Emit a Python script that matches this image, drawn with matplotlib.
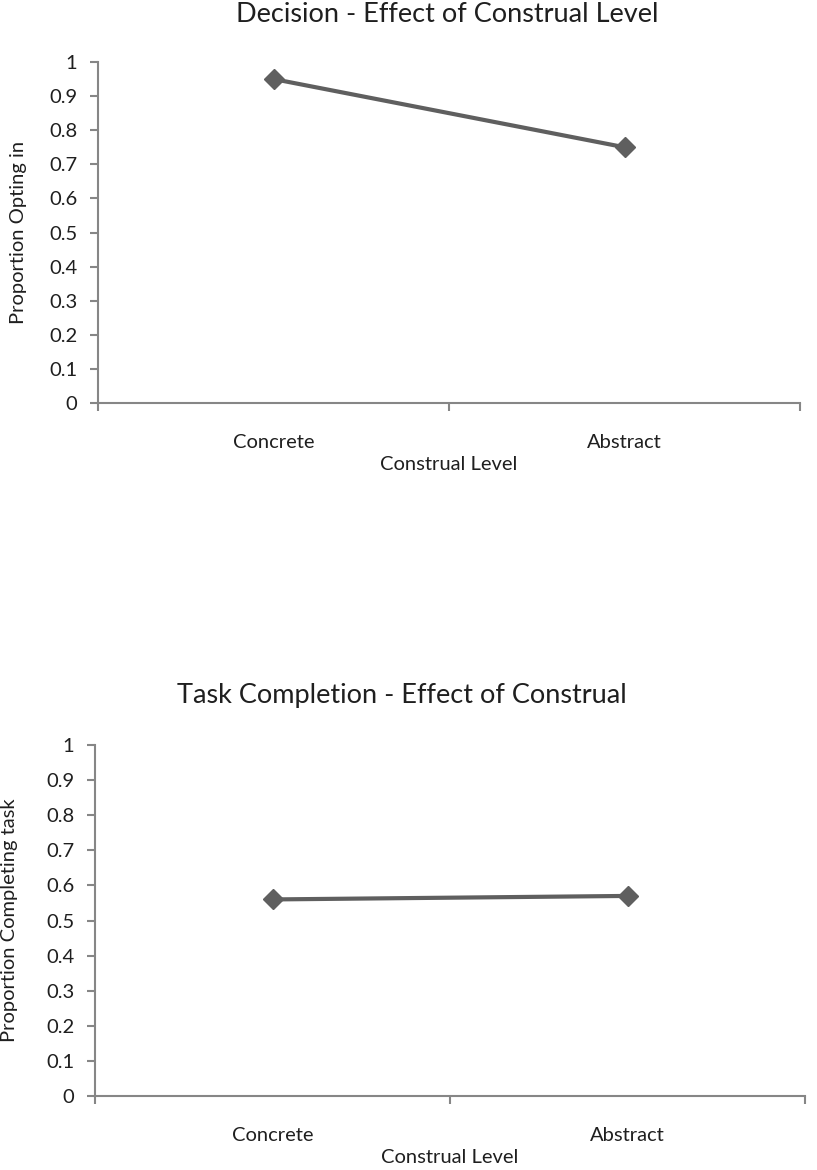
import matplotlib
matplotlib.use("Agg")
import matplotlib.pyplot as plt
import numpy as np

# Data
categories = ["Concrete", "Abstract"]
decision_values = [0.95, 0.75]
completion_values = [0.56, 0.57]
y_ticks = [0, 0.1, 0.2, 0.3, 0.4, 0.5, 0.6, 0.7, 0.8, 0.9, 1]
y_tick_labels = ["0", "0.1", "0.2", "0.3", "0.4", "0.5", "0.6", "0.7", "0.8", "0.9", "1"]

plt.rcParams["font.family"] = ["Lato", "DejaVu Sans"]

LINE_COLOR = "#5f5f5f"
AXIS_COLOR = "#868686"
TEXT_COLOR = "#1f1f1f"
TICK_FS = 14.5
LABEL_FS = 14.5
TITLE_FS = 19.5

fig = plt.figure(figsize=(8.17, 11.7), dpi=100)
W, H = 817, 1170


def make_axes(px_left, px_right, px_top, px_bottom):
    return fig.add_axes([px_left / W, 1 - px_bottom / H,
                         (px_right - px_left) / W, (px_bottom - px_top) / H])


def style(ax, values, ylabel, ylabel_px_x, px_left, px_right):
    x = np.arange(len(categories)) + 0.5
    ax.plot(x, values, color=LINE_COLOR, lw=3.0, marker="D", ms=10,
            markerfacecolor=LINE_COLOR, markeredgecolor=LINE_COLOR,
            solid_capstyle="butt", zorder=3)
    ax.set_xlim(0, len(categories))
    ax.set_ylim(0, 1)
    ax.set_yticks(y_ticks)
    ax.set_yticklabels(y_tick_labels)
    # category boundaries carry the ticks; names sit between them
    ax.set_xticks(np.arange(len(categories) + 1))
    ax.set_xticklabels([])
    ax.set_xticks(x, minor=True)
    ax.set_xticklabels(categories, minor=True)
    ax.tick_params(axis="x", which="minor", length=0, pad=22,
                   labelsize=TICK_FS, labelcolor=TEXT_COLOR)
    ax.tick_params(axis="x", which="major", length=5.5, width=1.5,
                   color=AXIS_COLOR, direction="out")
    ax.tick_params(axis="y", length=6, width=1.5, color=AXIS_COLOR,
                   direction="out", labelsize=TICK_FS, labelcolor=TEXT_COLOR,
                   pad=9)
    for side in ("top", "right"):
        ax.spines[side].set_visible(False)
    for side in ("left", "bottom"):
        ax.spines[side].set_color(AXIS_COLOR)
        ax.spines[side].set_linewidth(1.5)
    ax.set_xlabel("Construal Level", fontsize=LABEL_FS, color=TEXT_COLOR,
                  labelpad=4)
    ax.set_ylabel(ylabel, fontsize=LABEL_FS, color=TEXT_COLOR)
    ax.yaxis.set_label_coords((ylabel_px_x - px_left) / (px_right - px_left),
                              0.5)
    ax.yaxis.label.set_va("center")


ax1 = make_axes(98, 800, 62, 403)
style(ax1, decision_values, "Proportion Opting in", 19, 98, 800)
fig.text(447 / W, 1 - 15 / H, "Decision - Effect of Construal Level",
         ha="center", va="center", fontsize=TITLE_FS, color=TEXT_COLOR)

ax2 = make_axes(95, 805, 745, 1096)
style(ax2, completion_values, "Proportion Completing task", 10, 95, 805)
fig.text(402 / W, 1 - 695 / H, "Task Completion - Effect of Construal",
         ha="center", va="center", fontsize=TITLE_FS, color=TEXT_COLOR)

fig.savefig("out.png", dpi=100, facecolor="white")
